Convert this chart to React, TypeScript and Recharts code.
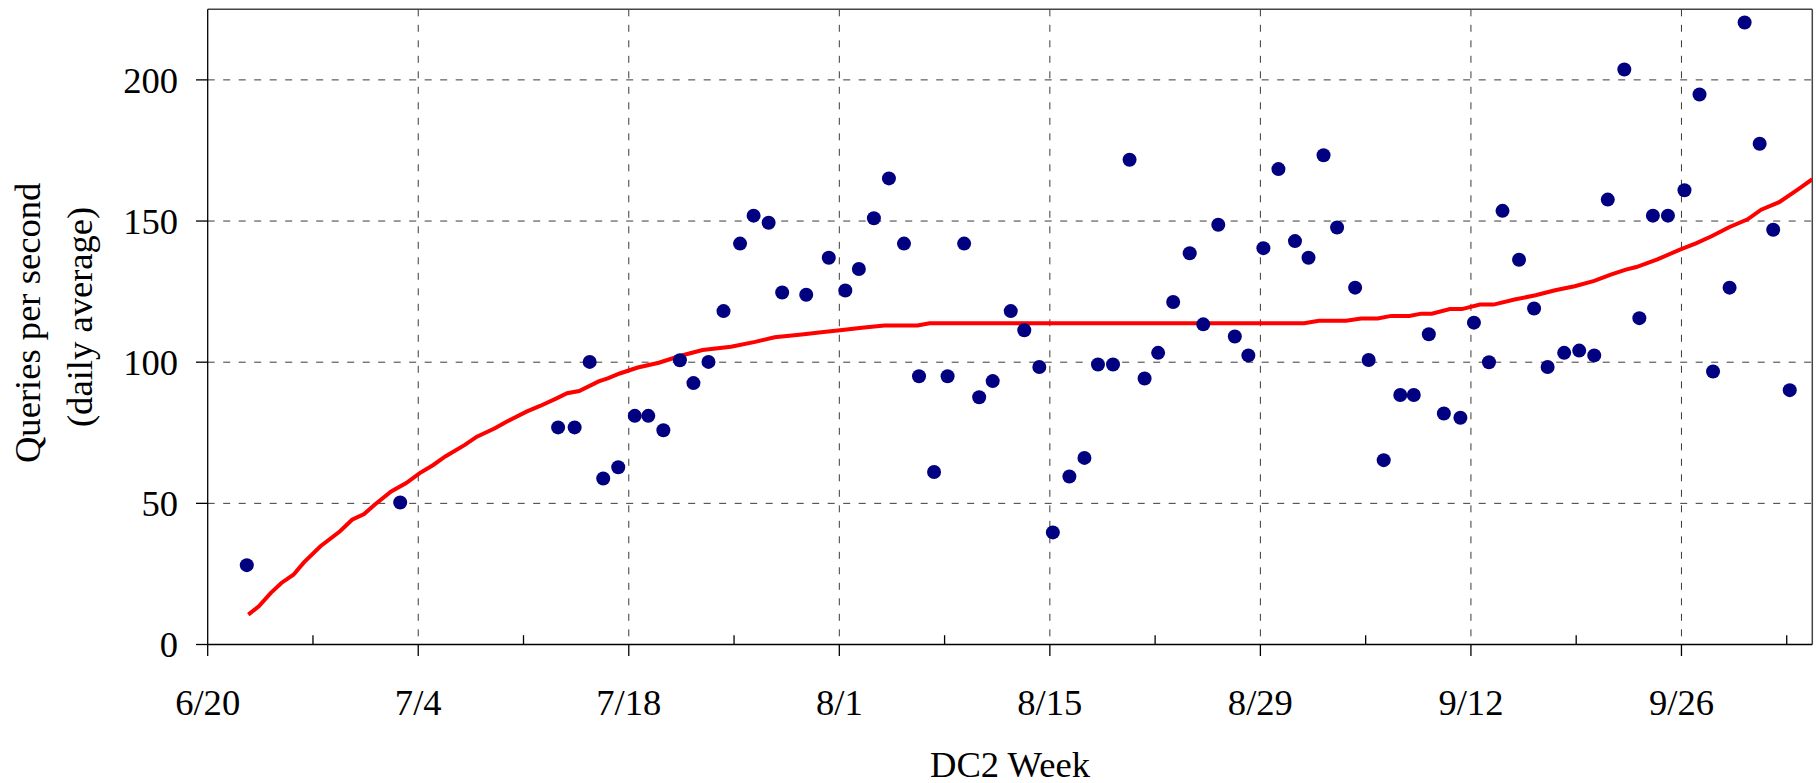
import React from 'react';
import {
  ScatterChart,
  Scatter,
  XAxis,
  YAxis,
  CartesianGrid,
  ReferenceLine,
} from 'recharts';

// ---- data (x = days since 6/20) ----
const DOT_DAY = [2.6, 12.8, 23.3, 24.4, 25.4, 26.3, 27.3, 28.4, 29.3, 30.3, 31.4, 32.3, 33.3, 34.3, 35.4, 36.3, 37.3, 38.2, 39.8, 41.3, 42.4, 43.3, 44.3, 45.3, 46.3, 47.3, 48.3, 49.2, 50.3, 51.3, 52.2, 53.4, 54.3, 55.3, 56.2, 57.3, 58.3, 59.2, 60.2, 61.3, 62.3, 63.2, 64.2, 65.3, 66.2, 67.2, 68.3, 69.2, 70.2, 71.2, 72.3, 73.2, 74.2, 75.1, 76.3, 77.2, 78.2, 79.3, 80.2, 81.2, 82.2, 83.3, 84.2, 85.2, 86.1, 87.2, 88.2, 89.1, 90.2, 91.2, 92.2, 93.1, 94.2, 95.2, 96.1, 97.1, 98.2, 99.2, 100.1, 101.2, 102.2, 103.2, 104.1, 105.2];
const DOT_QPS = [28.1, 50.3, 76.9, 76.9, 100.1, 58.8, 62.8, 81, 81, 75.9, 100.7, 92.6, 100.1, 118.1, 142, 151.9, 149.4, 124.7, 123.9, 137, 125.4, 133, 151, 165.1, 142, 95, 61.1, 95, 142, 87.6, 93.3, 118.1, 111.3, 98.3, 39.7, 59.5, 66.1, 99.2, 99.2, 171.7, 94.2, 103.3, 121.3, 138.6, 113.4, 148.7, 109.1, 102.4, 140.4, 168.4, 142.9, 137, 173.3, 147.7, 126.4, 100.8, 65.3, 88.4, 88.4, 109.9, 81.8, 80.3, 114, 100, 153.6, 136.3, 119, 98.3, 103.3, 104.1, 102.4, 157.6, 203.7, 115.6, 151.9, 151.9, 160.9, 194.8, 96.7, 126.4, 220.3, 177.4, 146.9, 90.1];

const TREND_DAY = [2.7, 3.4, 4.2, 4.9, 5.7, 6.4, 7.5, 8.8, 9.6, 10.4, 11.1, 12.2, 13.2, 14.1, 15, 15.8, 17.1, 17.9, 19.1, 19.9, 21.2, 22.1, 23.2, 23.9, 24.7, 26, 26.6, 27.4, 28.6, 30, 31.4, 32.9, 34.8, 36.4, 37.7, 39.5, 40.8, 42.2, 43.5, 45, 47.2, 48, 72.9, 73.9, 75.7, 76.7, 77.8, 78.7, 79.9, 80.7, 81.4, 82.6, 83.4, 84.6, 85.5, 86.9, 88.3, 89.6, 90.9, 92.2, 93.3, 94.3, 95, 96.4, 97.9, 99, 100, 101.2, 102.4, 103.3, 104.5, 105.8, 106.7];
const TREND_QPS = [10.6, 13.5, 18.3, 21.8, 24.7, 29.1, 34.8, 40.1, 44.2, 46.2, 49.5, 54.2, 57.2, 60.7, 63.6, 66.6, 70.7, 73.6, 76.6, 79, 82.5, 84.5, 87.2, 89, 89.8, 93.2, 94.3, 96, 98.1, 99.8, 102.2, 104.3, 105.5, 107.2, 108.8, 109.8, 110.6, 111.4, 112.2, 113, 113, 113.8, 113.8, 114.7, 114.7, 115.5, 115.5, 116.4, 116.4, 117.2, 117.2, 118.8, 118.8, 120.4, 120.4, 122.2, 123.7, 125.5, 126.9, 128.8, 131, 132.8, 133.7, 136.4, 139.9, 142.2, 144.6, 147.9, 150.6, 154, 156.7, 161.4, 164.8];

const MAJOR_TICK_DAYS = [0, 14, 28, 42, 56, 70, 84, 98];
const MAJOR_TICK_LABELS = ['6/20', '7/4', '7/18', '8/1', '8/15', '8/29', '9/12', '9/26'];
const MINOR_TICK_DAYS = [7, 21, 35, 49, 63, 77, 91, 105];
const Y_TICKS = [0, 50, 100, 150, 200];
const X_MAX = 106.7;
const Y_MAX = 225;

const dots = DOT_DAY.map((d, i) => ({ d, q: DOT_QPS[i] }));
const trend = TREND_DAY.map((d, i) => ({ d, q: TREND_QPS[i] }));
const allXTicks = [...MAJOR_TICK_DAYS, ...MINOR_TICK_DAYS].sort((a, b) => a - b);

const FONT = 'Liberation Serif, Times New Roman, serif';
const FS = 36.6;

const XTick = (props: any) => {
  const { x, y, payload } = props;
  const v = payload.value;
  const idx = MAJOR_TICK_DAYS.indexOf(v);
  if (idx >= 0) {
    return (
      <g>
        <line x1={x} x2={x} y1={y} y2={y + 11.5} stroke="#000" strokeWidth={1.3} />
        <text x={x} y={y + 70.5} textAnchor="middle" fontSize={FS} fontFamily={FONT} fill="#000">
          {MAJOR_TICK_LABELS[idx]}
        </text>
      </g>
    );
  }
  return <line x1={x} x2={x} y1={y} y2={y - 9.3} stroke="#000" strokeWidth={1.3} />;
};

const XTitle = (p: any) => {
  const vb = p.viewBox;
  return (
    <text x={vb.x + vb.width / 2} y={vb.y + 132} textAnchor="middle" fontSize={FS} fontFamily={FONT} fill="#000">
      DC2 Week
    </text>
  );
};

const YTitle = (p: any) => {
  const vb = p.viewBox;
  const cy = vb.y + vb.height / 2;
  const y1 = cy - 4;
  const y2 = cy - 10;
  return (
    <g>
      <text x={40} y={y1} transform={`rotate(-90, 40, ${y1})`} textAnchor="middle" fontSize={FS} fontFamily={FONT} fill="#000">
        Queries per second
      </text>
      <text x={91.7} y={y2} transform={`rotate(-90, 91.7, ${y2})`} textAnchor="middle" fontSize={FS} fontFamily={FONT} fill="#000">
        (daily average)
      </text>
    </g>
  );
};

const Dot = (p: any) => <circle cx={p.cx} cy={p.cy} r={7} fill="#000080" />;
const NoShape = () => <g />;

export default function App() {
  return (
    <div style={{ position: 'absolute', left: 0, top: 0, width: 1816, height: 783, background: '#fff' }}>
      <ScatterChart width={1816} height={783} margin={{ top: 9.3, right: 3.7, left: 0, bottom: 0 }}>
        <CartesianGrid
          stroke="#3a3a3a"
          strokeDasharray="7 8.5"
          verticalValues={MAJOR_TICK_DAYS.slice(1)}
          horizontalValues={Y_TICKS.slice(1)}
        />
        <XAxis
          type="number"
          dataKey="d"
          domain={[0, X_MAX]}
          allowDataOverflow
          ticks={allXTicks}
          interval={0}
          tickSize={0}
          tickMargin={0}
          tickLine={false}
          tick={<XTick />}
          height={138.5}
          axisLine={{ stroke: '#000', strokeWidth: 1.3 }}
          label={XTitle}
        />
        <YAxis
          type="number"
          dataKey="q"
          domain={[0, Y_MAX]}
          allowDataOverflow
          ticks={Y_TICKS}
          interval={0}
          width={207.7}
          tickSize={11.7}
          tickMargin={18}
          tickLine={{ stroke: '#000', strokeWidth: 1.3 }}
          axisLine={{ stroke: '#000', strokeWidth: 1.3 }}
          tick={{ fill: '#000', fontSize: FS, fontFamily: FONT }}
          label={YTitle}
        />
        <ReferenceLine y={Y_MAX} stroke="#444" strokeWidth={1.5} />
        <ReferenceLine x={X_MAX} stroke="#444" strokeWidth={1.5} />
        <Scatter
          data={trend}
          line={{ stroke: '#ff0000', strokeWidth: 4 }}
          lineType="joint"
          shape={NoShape}
          isAnimationActive={false}
        />
        <Scatter data={dots} shape={Dot} isAnimationActive={false} />
      </ScatterChart>
    </div>
  );
}
